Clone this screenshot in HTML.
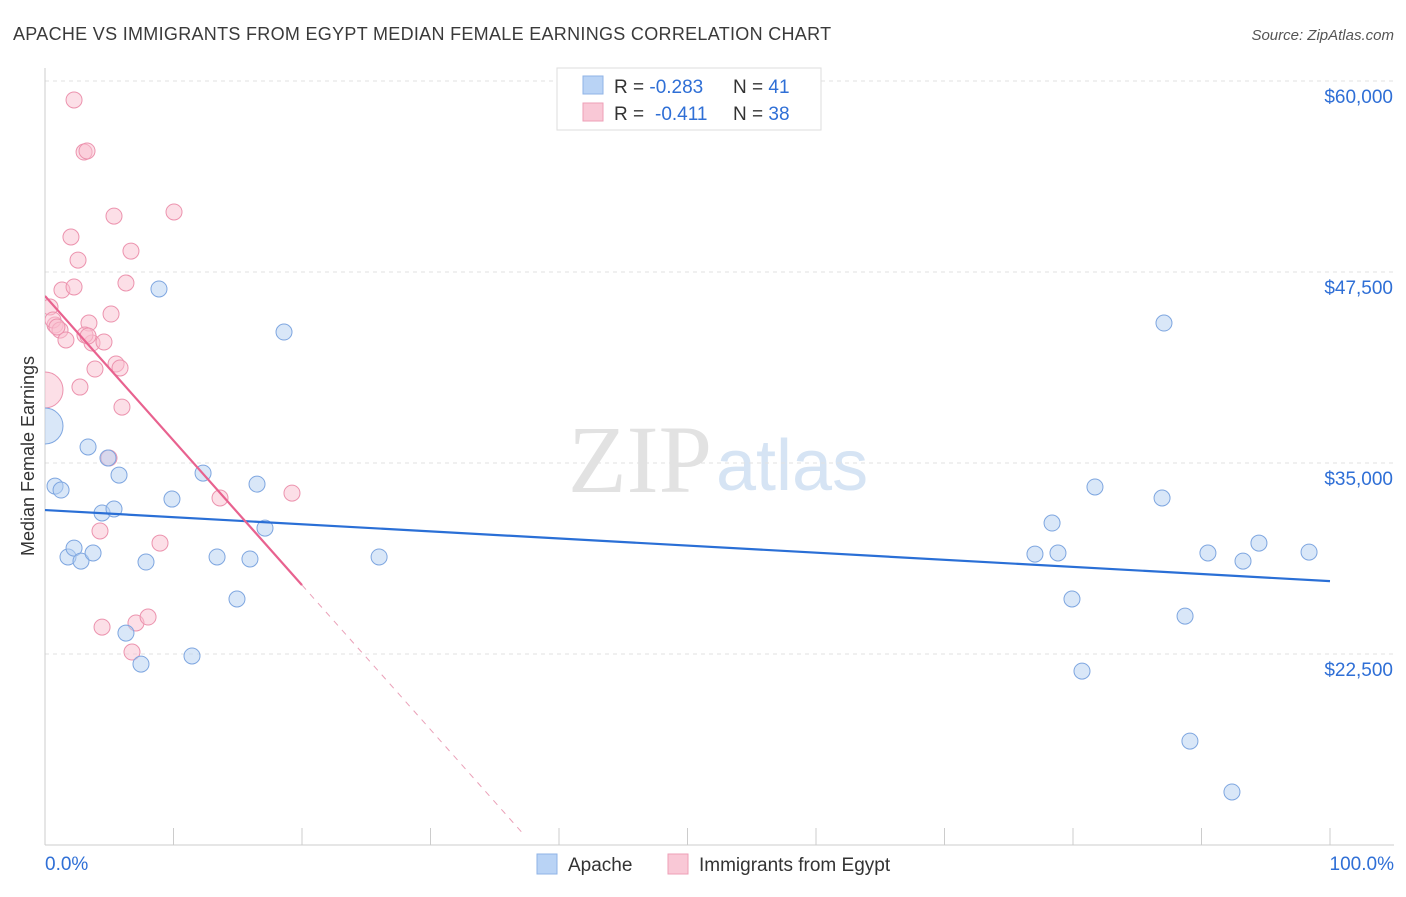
<!DOCTYPE html>
<html><head><meta charset="utf-8"><style>
body{margin:0;background:#fff;font-family:"Liberation Sans",sans-serif}
#wrap{position:relative;width:1406px;height:892px}
</style></head><body>
<div id="wrap">
<svg id="svg" width="1406" height="892" xmlns="http://www.w3.org/2000/svg">
<defs><clipPath id="plotclip"><rect x="45" y="60" width="1360" height="785"/></clipPath></defs>
<text x="13" y="40" font-size="18" fill="#3a3a3a" letter-spacing="0.3">APACHE VS IMMIGRANTS FROM EGYPT MEDIAN FEMALE EARNINGS CORRELATION CHART</text>
<text x="1394" y="40" font-size="15" fill="#555" font-style="italic" text-anchor="end">Source: ZipAtlas.com</text>
<text x="712" y="492" font-size="96" fill="#e2e2e2" font-family="Liberation Serif,serif" text-anchor="end">ZIP</text>
<text x="716" y="490" font-size="72" fill="#d6e4f4">atlas</text>
<text x="34" y="456" font-size="18" fill="#333" text-anchor="middle" transform="rotate(-90 34 456)">Median Female Earnings</text>
<g id="grid"></g><g id="axes"></g><g id="marks" clip-path="url(#plotclip)"></g>
<g>
<rect x="557" y="68" width="264" height="62" fill="#fff" stroke="#ddd"/>
<rect x="583" y="76" width="20" height="18" fill="#b9d3f5" stroke="#8fb3e6"/>
<rect x="583" y="103" width="20" height="18" fill="#f9c8d6" stroke="#ee9fb7"/>
<text x="614" y="93" font-size="19" fill="#333">R = <tspan fill="#2f6fd6">-0.283</tspan><tspan x="733">N = </tspan><tspan fill="#2f6fd6">41</tspan></text>
<text x="614" y="120" font-size="19" fill="#333">R = <tspan fill="#2f6fd6" x="655">-0.411</tspan><tspan x="733">N = </tspan><tspan fill="#2f6fd6">38</tspan></text>
</g>
<g>
<rect x="537" y="854" width="20" height="20" fill="#b9d3f5" stroke="#8fb3e6"/>
<text x="568" y="871" font-size="19" fill="#333">Apache</text>
<rect x="668" y="854" width="20" height="20" fill="#f9c8d6" stroke="#ee9fb7"/>
<text x="699" y="871" font-size="19" fill="#333">Immigrants from Egypt</text>
</g>
</svg>
</div>
<script>
const yTicks=[22500,35000,47500,60000];
const yTickLabels=["$22,500","$35,000","$47,500","$60,000"];
const xTickLabels=["0.0%","100.0%"];
const apacheX=[0,0.78,1.25,1.79,2.26,2.8,3.35,3.74,4.44,4.9,5.37,5.76,6.3,7.47,7.86,8.87,9.88,11.44,12.3,13.39,14.94,15.95,16.5,17.12,18.6,26.0,77.04,78.37,78.83,79.92,80.7,81.71,86.93,87.08,88.72,89.1,90.5,92.37,93.23,94.47,98.37];
const apacheY=[37420,33490,33230,28850,29430,28580,36050,29110,31730,35330,31990,34210,23870,21840,28520,46390,32640,22370,34340,28850,26100,28720,33620,30740,43570,28850,29040,31070,29110,26100,21380,33430,32710,44160,24980,16800,29110,13470,28580,29760,29170];
const egyptX=[0,0.39,0.78,0.62,1.17,1.32,1.63,2.02,2.26,2.26,2.57,2.72,3.04,3.27,3.42,3.66,3.89,4.28,4.44,4.59,4.98,5.14,5.37,5.53,5.84,5.99,6.3,6.69,6.77,7.08,8.02,8.95,10.04,13.62,19.22,3.11,0.93,3.35];
const egyptY=[39780,45210,44030,44360,43700,46320,43050,49790,58760,46520,48280,39970,55350,55420,44160,42850,41150,30550,24260,42920,35330,44750,51160,41480,41220,38660,46780,48870,22630,24530,24920,29760,51430,32710,33030,43380,43900,43310];
const apacheTrend=[[0,31920],[100,27270]];
const egyptTrend=[[0,45930],[20,27010]];
const egyptTrendExt=[[20,27010],[37.35,10600]];
const NS="http://www.w3.org/2000/svg";
const xs=v=>45+v*12.85, ys=v=>81+(60000-v)*191/12500;
function mk(t,a,p){const e=document.createElementNS(NS,t);for(const k in a)e.setAttribute(k,a[k]);p.appendChild(e);return e;}
const grid=document.getElementById('grid'),axes=document.getElementById('axes'),marks=document.getElementById('marks');
yTicks.forEach((v,i)=>{
 const l=mk('line',{x1:45,x2:1394,y1:ys(v),y2:ys(v),stroke:'#e2e2e2','stroke-dasharray':'4,4'},grid);
 
 
 const t=mk('text',{x:1393,y:ys(v)+22,'font-size':19,fill:'#2f6fd6','text-anchor':'end'},axes);
 t.textContent=yTickLabels[i];
 
 
});
mk('line',{x1:45,x2:45,y1:68,y2:845,stroke:'#ccc'},axes);
mk('line',{x1:45,x2:1394,y1:845,y2:845,stroke:'#ccc'},axes);
for(let i=0;i<=10;i++){const tk=mk('line',{x1:xs(i*10),x2:xs(i*10),y1:828,y2:845,stroke:'#ccc'},axes);
 
 }
[[0,'start',45],[1,'end',1394]].forEach(([i,a,x])=>{const t=mk('text',{x:x,y:870,'font-size':19,fill:'#2f6fd6','text-anchor':a},axes);t.textContent=xTickLabels[i];
 
 });
function dots(X,Y,fill,stroke,name){X.forEach((x,i)=>{const r=(x===0)?18:8;
 const c=mk('circle',{cx:xs(x),cy:ys(Y[i]),r:r,fill:fill,'fill-opacity':0.5,stroke:stroke,'stroke-width':1},marks);
 
 });}
dots(egyptX,egyptY,'#f9c0d0','#ec93ae','egypt-point');
dots(apacheX,apacheY,'#b4cff2','#7ea6e0','apache-point');
function ln(p,st,w,dash,name){const l=mk('line',{x1:xs(p[0][0]),y1:ys(p[0][1]),x2:xs(p[1][0]),y2:ys(p[1][1]),stroke:st,'stroke-width':w},marks);if(dash)l.setAttribute('stroke-dasharray',dash);
 
 }
ln(apacheTrend,'#2a6fd6',2.2,null,'apache-trendline');
ln(egyptTrend,'#e8628f',2.2,null,'egypt-trendline');
ln(egyptTrendExt,'#eaa0b8',1,'6,6','egypt-trendline-extension');
</script>
</body></html>
